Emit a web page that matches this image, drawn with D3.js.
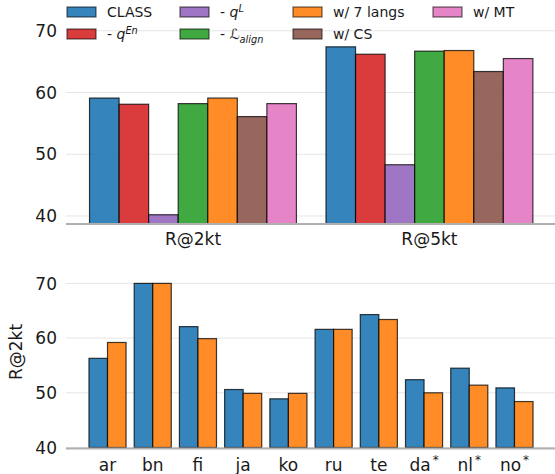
<!DOCTYPE html>
<html>
<head>
<meta charset="utf-8">
<script src="https://cdn.jsdelivr.net/npm/d3@7"></script>
<style>
  html, body { margin: 0; padding: 0; background: #fff; }
  svg { display: block; font-family: "DejaVu Sans", sans-serif; }
</style>
</head>
<body>
<svg id="chart" width="555" height="474"></svg>
<script>
// ---------- data ----------
const topGroups = ["R@2kt", "R@5kt"];
const topSeries = ["CLASS", "- $q^{En}$", "- $q^{L}$", "- $ℒ_{align}$", "w/ 7 langs", "w/ CS", "w/ MT"];
const topColors = ["#1f77b4", "#d62728", "#9467bd", "#2ca02c", "#ff7f0e", "#8c564b", "#e377c2"];
const r2ktValues = [59.1, 58.1, 40.2, 58.2, 59.1, 56.1, 58.2];
const r5ktValues = [67.4, 66.2, 48.3, 66.7, 66.8, 63.4, 65.5];

const langs = ["ar", "bn", "fi", "ja", "ko", "ru", "te", "da^{*}", "nl^{*}", "no^{*}"];
const langSeries = ["CLASS", "w/ 7 langs"];
const langColors = ["#1f77b4", "#ff7f0e"];
const langClass = [56.3, 70.0, 62.1, 50.6, 48.9, 61.6, 64.3, 52.4, 54.5, 50.9];
const lang7 = [59.2, 70.0, 59.9, 49.9, 49.9, 61.6, 63.4, 50.0, 51.4, 48.4];

const yTicks = [40, 50, 60, 70];
const bottomYLabel = "R@2kt";

// ---------- helpers ----------
function rich(textSel, str, base) {
  const parts = str.split("$");
  let pending = 0;
  parts.forEach((p, i) => {
    const math = i % 2 === 1;
    const re = /([\^_])\{([^}]*)\}|([^\^_]+)/g;
    let m;
    while ((m = re.exec(p))) {
      if (m[1]) {
        const shift = m[1] === "^" ? -base * 0.4 : base * 0.25;
        textSel.append("tspan")
          .attr("font-size", base * 0.7)
          .attr("dx", math ? 0 : base * 0.12)
          .attr("dy", pending + shift)
          .style("font-style", math ? "italic" : null)
          .text(m[2]);
        pending = -shift;
      } else {
        textSel.append("tspan")
          .attr("dy", pending)
          .style("font-style", math ? "italic" : null)
          .text(m[3]);
        pending = 0;
      }
    }
  });
}

const svg = d3.select("#chart");
const left = 66, right = 555;
const tickSize = 17;

function drawFrame(g, y) {
  g.selectAll("line.grid").data(yTicks).join("line")
    .attr("class", "grid")
    .attr("x1", left).attr("x2", right)
    .attr("y1", d => y(d)).attr("y2", d => y(d))
    .attr("stroke", "#e5e5e5").attr("stroke-width", 1);
  g.selectAll("text.ytick").data(yTicks).join("text")
    .attr("class", "ytick")
    .attr("x", 57).attr("y", d => y(d))
    .attr("dy", "0.36em")
    .attr("text-anchor", "end")
    .attr("font-size", tickSize)
    .attr("fill", "#1a1a1a")
    .text(d => d);
}

function drawSpine(g, bottomY) {
  g.append("line")
    .attr("x1", left).attr("x2", right)
    .attr("y1", bottomY).attr("y2", bottomY)
    .attr("stroke", "#b0b0b0").attr("stroke-width", 2);
}

// ---------- top panel ----------
const topG = svg.append("g");
const yTop = d3.scaleLinear().domain([38.7, 74.5]).range([224, 3]);
const xTop = d3.scaleLinear().domain([-0.537, 1.531]).range([left, right]);
const topBottom = yTop(38.7);
drawFrame(topG, yTop);

const barW = 0.125;
const topData = [];
[r2ktValues, r5ktValues].forEach((vals, gi) => {
  vals.forEach((v, si) => topData.push({ gi, si, v }));
});
topG.selectAll("rect.bar").data(topData).join("rect")
  .attr("class", "bar")
  .attr("x", d => xTop(d.gi + (d.si - 3) * barW - barW / 2))
  .attr("width", d => xTop(barW) - xTop(0))
  .attr("y", d => yTop(d.v))
  .attr("height", d => topBottom - yTop(d.v))
  .attr("fill", d => topColors[d.si]).attr("fill-opacity", 0.9)
  .attr("stroke", "#000").attr("stroke-opacity", 0.75).attr("stroke-width", 1.2);
drawSpine(topG, topBottom);

topG.selectAll("text.xtick").data(topGroups).join("text")
  .attr("class", "xtick")
  .attr("x", (d, i) => xTop(i)).attr("y", topBottom + 21)
  .attr("text-anchor", "middle").attr("font-size", tickSize).attr("fill", "#1a1a1a")
  .text(d => d);

// legend
const legCols = [67, 180, 293, 433];
const legRows = [12, 34];
const legG = topG.append("g");
topSeries.forEach((name, i) => {
  const col = Math.floor(i / 2), row = i % 2;
  const cx = legCols[col], cy = legRows[row];
  legG.append("rect")
    .attr("x", cx).attr("y", cy - 5).attr("width", 29).attr("height", 10)
    .attr("fill", topColors[i]).attr("fill-opacity", 0.9)
    .attr("stroke", "#000").attr("stroke-opacity", 0.6).attr("stroke-width", 1.2);
  const t = legG.append("text")
    .attr("x", cx + 40).attr("y", cy + 5.1)
    .attr("font-size", 14).attr("fill", "#1a1a1a");
  rich(t, name, 14);
});

// ---------- bottom panel ----------
const botG = svg.append("g");
const yBot = d3.scaleLinear().domain([40, 70]).range([447.5, 283.4]);
const xBot = d3.scaleLinear().domain([-0.918, 9.896]).range([left, right]);
const botBottom = yBot(40);
drawFrame(botG, yBot);

const pairW = 0.41;
const botData = [];
[langClass, lang7].forEach((vals, si) => {
  vals.forEach((v, li) => botData.push({ li, si, v }));
});
botG.selectAll("rect.bar").data(botData).join("rect")
  .attr("class", "bar")
  .attr("x", d => xBot(d.li + (d.si - 1) * pairW))
  .attr("width", d => xBot(pairW) - xBot(0))
  .attr("y", d => yBot(d.v))
  .attr("height", d => botBottom - yBot(d.v))
  .attr("fill", d => langColors[d.si]).attr("fill-opacity", 0.9)
  .attr("stroke", "#000").attr("stroke-opacity", 0.75).attr("stroke-width", 1.2);
drawSpine(botG, botBottom + 1);

langs.forEach((name, i) => {
  const t = botG.append("text")
    .attr("x", xBot(i)).attr("y", botBottom + 23)
    .attr("text-anchor", "middle").attr("font-size", tickSize).attr("fill", "#1a1a1a");
  rich(t, name, tickSize);
});

botG.append("text")
  .attr("transform", `translate(22, 352) rotate(-90)`)
  .attr("text-anchor", "middle").attr("font-size", tickSize).attr("fill", "#1a1a1a")
  .text(bottomYLabel);
</script>
</body>
</html>
